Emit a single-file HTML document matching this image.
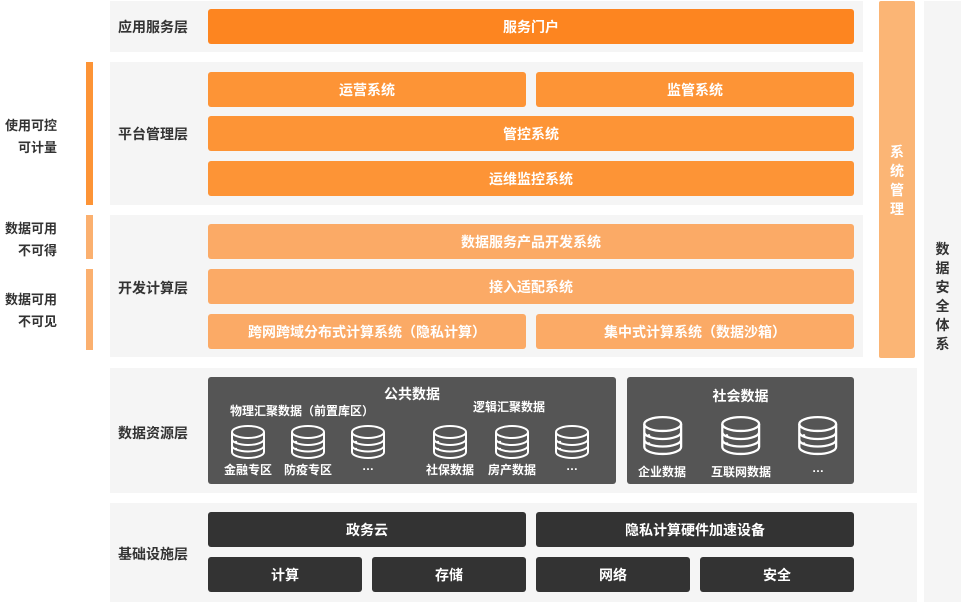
<html><head><style>
body{margin:0;width:961px;height:602px;background:#fff;font-family:"Liberation Sans","Noto Sans CJK SC",sans-serif;position:relative;overflow:hidden}
div{position:absolute;box-sizing:border-box}
.l{background:#f5f5f5}
.lb{font-size:14px;font-weight:bold;color:#333;left:118px}
.b{border-radius:3px;color:#fff;font-size:14px;font-weight:bold;display:flex;align-items:center;justify-content:center;height:35px}
.o1{background:#fd8520}.o2{background:#fd9436}.o3{background:#fbaa66}.d{background:#333}
.t{color:#fff;font-weight:bold;font-size:12px;text-align:center;width:80px}
.sd{font-size:13px;font-weight:bold;color:#333;text-align:right;right:904px;line-height:22px}
</style></head><body>
<svg width="0" height="0" style="position:absolute"><defs><g id="db"><g fill="none" stroke="#fff" stroke-width="2"><ellipse cx="18" cy="7" rx="16" ry="6"/><path d="M2 7v20c0 3.3 7.2 6 16 6s16-2.7 16-6V7M2 14c0 3.3 7.2 6 16 6s16-2.7 16-6M2 20.5c0 3.3 7.2 6 16 6s16-2.7 16-6"/></g><circle cx="6" cy="17" r="1.2" fill="#fff"/><circle cx="6" cy="24" r="1.2" fill="#fff"/></g></defs></svg>

<div class="l" style="left:110px;top:1px;width:753px;height:51px"></div>
<div class="lb" style="top:17px">应用服务层</div>
<div class="b o1" style="left:208px;top:9px;width:646px">服务门户</div>

<div class="l" style="left:110px;top:62px;width:753px;height:143px"></div>
<div class="lb" style="top:124px">平台管理层</div>
<div class="b o2" style="left:208px;top:72px;width:318px">运营系统</div>
<div class="b o2" style="left:536px;top:72px;width:318px">监管系统</div>
<div class="b o2" style="left:208px;top:116px;width:646px">管控系统</div>
<div class="b o2" style="left:208px;top:161px;width:646px">运维监控系统</div>

<div class="l" style="left:110px;top:215px;width:753px;height:142px"></div>
<div class="lb" style="top:278px">开发计算层</div>
<div class="b o3" style="left:208px;top:224px;width:646px">数据服务产品开发系统</div>
<div class="b o3" style="left:208px;top:269px;width:646px">接入适配系统</div>
<div class="b o3" style="left:208px;top:314px;width:318px">跨网跨域分布式计算系统（隐私计算）</div>
<div class="b o3" style="left:536px;top:314px;width:318px">集中式计算系统（数据沙箱）</div>

<div class="l" style="left:110px;top:368px;width:807px;height:125px"></div>
<div class="lb" style="top:423px">数据资源层</div>
<div style="left:208px;top:377px;width:408px;height:107px;background:#555;border-radius:3px"></div>
<div style="left:627px;top:377px;width:227px;height:107px;background:#555;border-radius:3px"></div>
<div style="left:208px;top:384px;width:408px;text-align:center;color:#fff;font-weight:bold;font-size:14px">公共数据</div>
<div style="left:230px;top:402px;color:#fff;font-weight:bold;font-size:12px">物理汇聚数据（前置库区）</div>
<div style="left:473px;top:398px;color:#fff;font-weight:bold;font-size:12px">逻辑汇聚数据</div>
<div style="left:627px;top:386px;width:227px;text-align:center;color:#fff;font-weight:bold;font-size:14px">社会数据</div>
<svg style="position:absolute;left:0;top:0" width="961" height="602">
<use href="#db" x="230" y="425"/><use href="#db" x="290" y="425"/><use href="#db" x="350" y="425"/>
<use href="#db" x="432" y="425"/><use href="#db" x="494" y="425"/><use href="#db" x="554" y="425"/>
<g transform="translate(642,416) scale(1.15)"><use href="#db"/></g>
<g transform="translate(720,416) scale(1.15)"><use href="#db"/></g>
<g transform="translate(797,416) scale(1.15)"><use href="#db"/></g>
</svg>
<div class="t" style="left:208px;top:461px">金融专区</div>
<div class="t" style="left:268px;top:461px">防疫专区</div>
<div class="t" style="left:328px;top:459px">…</div>
<div class="t" style="left:410px;top:461px">社保数据</div>
<div class="t" style="left:472px;top:461px">房产数据</div>
<div class="t" style="left:532px;top:459px">…</div>
<div class="t" style="left:622px;top:463px">企业数据</div>
<div class="t" style="left:701px;top:463px">互联网数据</div>
<div class="t" style="left:778px;top:461px">…</div>

<div class="l" style="left:110px;top:503px;width:807px;height:99px"></div>
<div class="lb" style="top:544px">基础设施层</div>
<div class="b d" style="left:208px;top:512px;width:318px">政务云</div>
<div class="b d" style="left:536px;top:512px;width:318px">隐私计算硬件加速设备</div>
<div class="b d" style="left:208px;top:557px;width:154px">计算</div>
<div class="b d" style="left:372px;top:557px;width:154px">存储</div>
<div class="b d" style="left:536px;top:557px;width:154px">网络</div>
<div class="b d" style="left:700px;top:557px;width:154px">安全</div>

<div style="left:86px;top:62px;width:7px;height:143px;background:#fd9436"></div>
<div style="left:86px;top:215px;width:7px;height:44px;background:#fbb06f"></div>
<div style="left:86px;top:269px;width:7px;height:81px;background:#fbb06f"></div>
<div class="sd" style="top:115px">使用可控<br>可计量</div>
<div class="sd" style="top:218px">数据可用<br>不可得</div>
<div class="sd" style="top:289px">数据可用<br>不可见</div>

<div style="left:879px;top:1px;width:36px;height:357px;background:#fbb575;border-radius:2px"></div>
<div style="left:879px;top:143px;width:36px;text-align:center;color:#fff;font-size:14px;font-weight:bold;line-height:19px">系<br>统<br>管<br>理</div>
<div style="left:924px;top:1px;width:37px;height:601px;background:#f5f5f5"></div>
<div style="left:924px;top:240px;width:37px;text-align:center;color:#333;font-size:14px;font-weight:bold;line-height:19px">数<br>据<br>安<br>全<br>体<br>系</div>
</body></html>
